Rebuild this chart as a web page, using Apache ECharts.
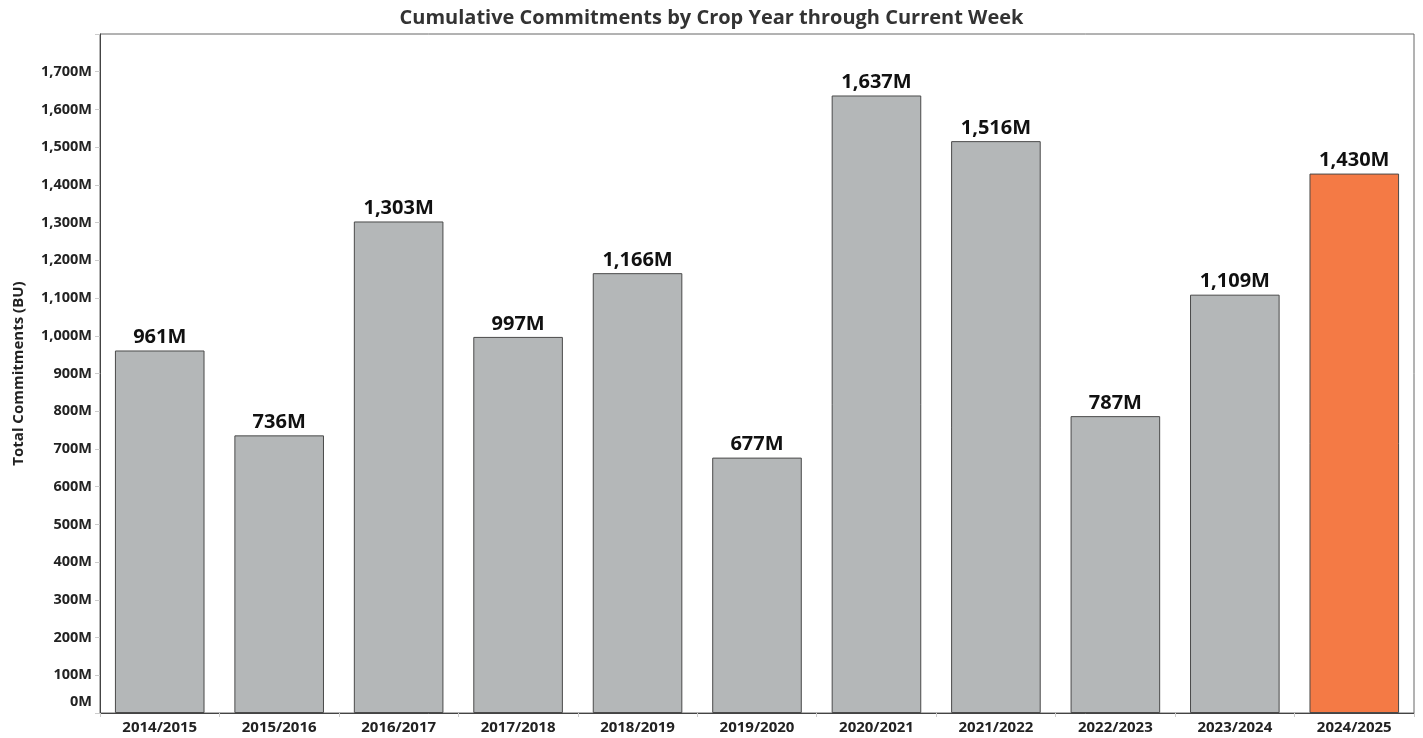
<!DOCTYPE html>
<html>
<head>
<meta charset="utf-8">
<script src="https://cdn.jsdelivr.net/npm/echarts@6/dist/echarts.min.js"></script>
<style>
html,body{margin:0;padding:0;background:#fff;}
#chart{width:1423px;height:738px;}
</style>
</head>
<body>
<div id="chart"></div>
<script>
const categories = ['2014/2015','2015/2016','2016/2017','2017/2018','2018/2019','2019/2020','2020/2021','2021/2022','2022/2023','2023/2024','2024/2025'];
const values = [961, 736, 1303, 997, 1166, 677, 1637, 1516, 787, 1109, 1430];
const highlightCategory = '2024/2025';
const titleText = 'Cumulative Commitments by Crop Year through Current Week';
const yAxisTitle = 'Total Commitments (BU)';

const FONT = '"Open Sans", "Noto Sans", sans-serif';
const GREY = '#b4b7b8';
const ORANGE = '#f47a45';

function fmt(v) {
  return v.toLocaleString('en-US') + 'M';
}

const chart = echarts.init(document.getElementById('chart'), null, {renderer: 'canvas'});
chart.setOption({
  animation: false,
  backgroundColor: '#fff',
  title: {
    text: titleText,
    left: 'center',
    top: 3,
    textStyle: {fontFamily: FONT, fontSize: 20, fontWeight: 'bold', color: '#333'}
  },
  grid: {
    left: 100, right: 9, top: 34, bottom: 25,
    show: true, borderColor: '#666', borderWidth: 1, backgroundColor: 'transparent'
  },
  xAxis: {
    type: 'category',
    data: categories,
    axisLine: {show: true, lineStyle: {color: '#444', width: 1}},
    axisTick: {show: true, alignWithLabel: false, length: 4, lineStyle: {color: '#ccc'}},
    axisLabel: {fontFamily: FONT, fontSize: 15, fontWeight: 'bold', color: '#222', margin: 7}
  },
  yAxis: {
    type: 'value',
    min: 0, max: 1800, interval: 100,
    name: yAxisTitle,
    nameLocation: 'middle',
    nameGap: 74,
    nameTextStyle: {fontFamily: FONT, fontSize: 15, fontWeight: 'bold', color: '#222'},
    splitLine: {show: false},
    axisLine: {show: true, lineStyle: {color: '#444', width: 1}},
    axisTick: {show: true, length: 5, lineStyle: {color: '#ccc'}},
    axisLabel: {
      fontFamily: FONT, fontSize: 14.5, fontWeight: 'bold', color: '#222', margin: 8,
      formatter: function (v) {
        if (v === 1800) return '';
        if (v === 0) return '{z|0M}';
        return fmt(v);
      },
      rich: {
        z: {fontFamily: FONT, fontSize: 14.5, fontWeight: 'bold', color: '#222', padding: [0, 0, 22, 0]}
      }
    }
  },
  series: [{
    type: 'bar',
    barCategoryGap: '25%',
    data: values.map((v, i) => ({
      value: v,
      itemStyle: {color: categories[i] === highlightCategory ? ORANGE : GREY}
    })),
    itemStyle: {borderColor: '#4a4a4a', borderWidth: 1},
    label: {
      show: true,
      position: 'top',
      distance: 3,
      fontFamily: FONT, fontSize: 20, fontWeight: 'bold', color: '#111',
      formatter: p => fmt(p.value)
    }
  }]
});
</script>
</body>
</html>
